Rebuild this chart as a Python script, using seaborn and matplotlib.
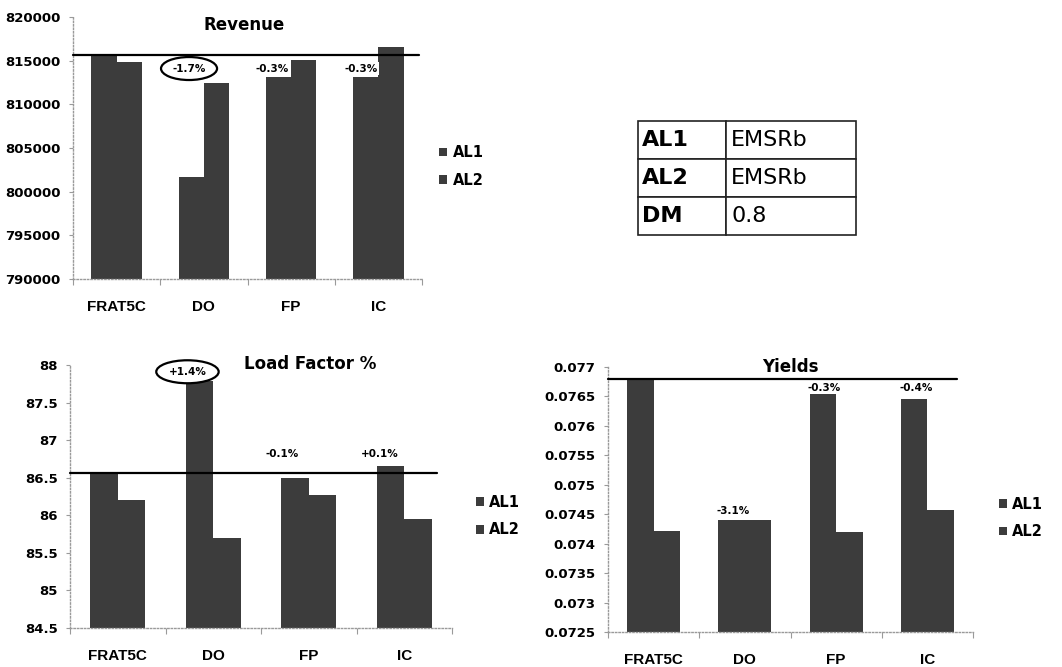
import numpy as np
import pandas as pd
import matplotlib
matplotlib.use("Agg")
import matplotlib.pyplot as plt
from matplotlib.patches import Patch
from matplotlib.ticker import FuncFormatter, FixedLocator
from matplotlib.font_manager import FontProperties
import seaborn as sns

# ---- data ---------------------------------------------------------------
categories = ["FRAT5C", "DO", "FP", "IC"]
series = ["AL1", "AL2"]

revenue_al1 = [815600, 801700, 813150, 813150]
revenue_al2 = [814900, 812480, 815080, 816530]
revenue_labels = ["", "-1.7%", "-0.3%", "-0.3%"]

load_al1 = [86.56, 87.79, 86.50, 86.65]
load_al2 = [86.21, 85.70, 86.27, 85.95]
load_labels = ["", "+1.4%", "-0.1%", "+0.1%"]

yield_al1 = [0.07679, 0.07441, 0.07658, 0.07646]
yield_al2 = [0.07421, 0.07440, 0.07420, 0.07458]
yield_labels = ["", "-3.1%", "-0.3%", "-0.4%"]

table_keys = ["AL1", "AL2", "DM"]
table_vals = ["EMSRb", "EMSRb", "0.8"]

# ---- style --------------------------------------------------------------
sns.set_theme(style="white")
plt.rcParams["font.family"] = ["DejaVu Sans"]
plt.rcParams["text.color"] = "black"
plt.rcParams["xtick.color"] = "black"
plt.rcParams["ytick.color"] = "black"
plt.rcParams["xtick.labelcolor"] = "black"
plt.rcParams["ytick.labelcolor"] = "black"
BAR = "#3c3c3c"
SPINE = "#9a9a9a"
TICK_FONT = dict(family="DejaVu Sans", weight="bold", size=9.5)
XLAB_FONT = dict(family="Liberation Sans", weight="bold", size=11)

fig = plt.figure(figsize=(10.62, 6.67), dpi=100)
fig.patch.set_facecolor("white")


def long_frame(a1, a2):
    return pd.DataFrame({
        "category": categories * 2,
        "series": [series[0]] * 4 + [series[1]] * 4,
        "value": list(a1) + list(a2),
    })


def panel(rect, a1, a2, ylim, step, title, title_xy, labels, label_pos,
          line_end, legend_anchor, circled=None):
    ax = fig.add_axes(rect)
    sns.barplot(data=long_frame(a1, a2), x="category", y="value",
                hue="series", palette=[BAR, BAR], width=0.58,
                errorbar=None, legend=False, ax=ax, linewidth=0,
                saturation=1)
    ax.set_xlim(-0.5, 3.5)
    ax.set_ylim(*ylim)
    ax.set_xlabel("")
    ax.set_ylabel("")
    ax.grid(False)

    yt = np.arange(ylim[0], ylim[1] + step / 2, step)
    ax.yaxis.set_major_locator(FixedLocator(yt))
    ax.yaxis.set_major_formatter(FuncFormatter(lambda v, p: "%g" % round(v, 6)))
    for t in ax.get_yticklabels():
        t.set_fontproperties(FontProperties(**TICK_FONT))
        t.set_color("black")
    ax.tick_params(axis="y", which="major", length=3, width=0.8,
                   color=SPINE, direction="out", pad=6, left=True,
                   labelcolor="black")

    ax.set_xticks(range(4))
    ax.set_xticklabels(categories, color="black", **XLAB_FONT)
    ax.tick_params(axis="x", which="major", length=0, pad=15)
    ax.set_xticks(np.arange(-0.5, 4, 1.0), minor=True)
    ax.tick_params(axis="x", which="minor", length=4, width=0.8,
                   color=SPINE, direction="out", bottom=True)

    for s in ("top", "right"):
        ax.spines[s].set_visible(False)
    for s in ("left", "bottom"):
        ax.spines[s].set_color(SPINE)
        ax.spines[s].set_linestyle((0, (1, 1.5)))
        ax.spines[s].set_linewidth(1.0)

    # reference line at the FRAT5C / AL1 level
    ax.axhline(a1[0], xmin=0, xmax=line_end, color="black", lw=1.6,
               zorder=5, clip_on=False)

    ax.text(title_xy[0], title_xy[1], title, transform=ax.transAxes,
            ha="center", va="center", fontsize=12, fontweight="bold",
            family="DejaVu Sans", color="black")

    for i, (lab, (lx, ly)) in enumerate(zip(labels, label_pos)):
        if not lab:
            continue
        kw = dict(ha="center", va="center", fontsize=7.5, fontweight="bold",
                  family="DejaVu Sans", zorder=6, clip_on=False, color="black")
        if i == circled:
            kw["bbox"] = dict(boxstyle="ellipse,pad=0.3", fc="white",
                              ec="black", lw=1.6)
        else:
            kw["bbox"] = dict(boxstyle="square,pad=0.1", fc="white",
                              ec="none")
        ax.text(lx, ly, lab, **kw)

    handles = [Patch(facecolor=BAR, edgecolor="none", label=s) for s in series]
    leg = ax.legend(handles=handles, loc="center left",
                    bbox_to_anchor=legend_anchor, frameon=False,
                    handlelength=0.55, handleheight=0.55, handletextpad=0.35,
                    labelspacing=0.85, borderpad=0, borderaxespad=0,
                    prop=dict(family="DejaVu Sans", weight="bold", size=10.5))
    for t in leg.get_texts():
        t.set_color("black")
    return ax


# Revenue
panel([73 / 1062, 1 - 279 / 667, 349 / 1062, 262 / 667],
      revenue_al1, revenue_al2, (790000, 820000), 5000,
      "Revenue", (0.49, 0.97), revenue_labels,
      [(0, 0), (0.83, 814100), (1.78, 814100), (2.80, 814100)],
      0.99, (1.05, 0.43), circled=1)

# Load factor
panel([70 / 1062, 1 - 628 / 667, 382 / 1062, 263 / 667],
      load_al1, load_al2, (84.5, 88.0), 0.5,
      "Load Factor %", (0.628, 1.005), load_labels,
      [(0, 0), (0.73, 87.91), (1.72, 86.82), (2.74, 86.82)],
      0.96, (1.063, 0.425), circled=1)

# Yields
panel([608 / 1062, 1 - 632 / 667, 365 / 1062, 265 / 667],
      yield_al1, yield_al2, (0.0725, 0.077), 0.0005,
      "Yields", (0.5, 1.0), yield_labels,
      [(0, 0), (0.87, 0.07455), (1.87, 0.07664), (2.88, 0.07664)],
      0.956, (1.07, 0.43))

# Settings table
tax = fig.add_axes([638 / 1062, 1 - 235 / 667, 218 / 1062, 114 / 667])
tax.axis("off")
tbl = tax.table(cellText=[[k, v] for k, v in zip(table_keys, table_vals)],
                cellLoc="left", colWidths=[88 / 218, 130 / 218],
                bbox=[0, 0, 1, 1])
tbl.auto_set_font_size(False)
for (r, c), cell in tbl.get_celld().items():
    cell.set_edgecolor("#222222")
    cell.set_linewidth(1.2)
    cell.PAD = 0.04
    cell.get_text().set_fontsize(16)
    cell.get_text().set_color("black")
    cell.get_text().set_fontweight("bold" if c == 0 else "normal")

fig.savefig("out.png", dpi=100, facecolor="white")
